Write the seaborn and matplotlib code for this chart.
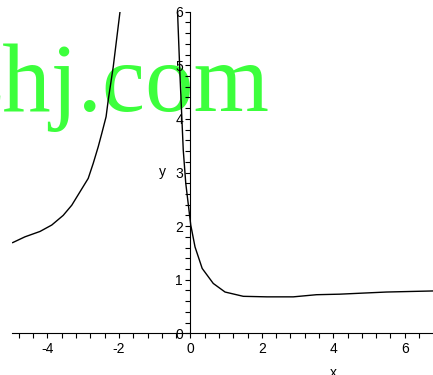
import matplotlib
matplotlib.use("Agg")
import matplotlib.pyplot as plt
from matplotlib.ticker import MultipleLocator
import seaborn as sns
import pandas as pd

# Data
left_x = [-4.98, -4.63, -4.21, -3.88, -3.56, -3.32, -3.09, -2.86, -2.72, -2.58, -2.48, -2.36, -2.30, -2.16, -1.97]
left_y = [1.69, 1.80, 1.90, 2.02, 2.20, 2.39, 2.64, 2.89, 3.17, 3.48, 3.73, 4.04, 4.35, 4.97, 6.00]
right_x = [-0.36, -0.29, -0.20, -0.13, -0.04, 0.01, 0.13, 0.33, 0.64, 0.97, 1.48, 2.14, 2.88, 3.53, 4.18, 4.83, 5.49, 6.79]
right_y = [6.00, 4.79, 3.42, 2.80, 2.30, 2.02, 1.61, 1.21, 0.93, 0.77, 0.69, 0.68, 0.68, 0.72, 0.73, 0.75, 0.77, 0.79]
x_ticks = [-4, -2, 0, 2, 4, 6]
y_ticks = [0, 1, 2, 3, 4, 5, 6]
watermark = "zhj.com"

sns.set_theme(style="white")
plt.rcParams["font.family"] = ["Liberation Sans", "DejaVu Sans"]

W, H = 433, 375
fig = plt.figure(figsize=(W / 100, H / 100), dpi=100)
left_px, right_px = 11.75, 433.0
top_px, bottom_px = 11.7, 333.3
ax = fig.add_axes([left_px / W, (H - bottom_px) / H, (right_px - left_px) / W, (bottom_px - top_px) / H])
ax.patch.set_alpha(0)

df_left = pd.DataFrame({"x": left_x, "y": left_y})
df_right = pd.DataFrame({"x": right_x, "y": right_y})
sns.lineplot(data=df_left, x="x", y="y", color="black", linewidth=1.0, estimator=None, sort=False, ax=ax)
sns.lineplot(data=df_right, x="x", y="y", color="black", linewidth=1.0, estimator=None, sort=False, ax=ax)

ax.set_xlim(-5, 6.79)
ax.set_ylim(0, 6)

for s in ["top", "right"]:
    ax.spines[s].set_visible(False)
ax.spines["left"].set_position(("data", 0))
ax.spines["bottom"].set_position(("data", 0))
for s in ["left", "bottom"]:
    ax.spines[s].set_color("black")
    ax.spines[s].set_linewidth(0.8)
    ax.spines[s].set_zorder(3)

ax.set_xticks(x_ticks)
ax.set_yticks(y_ticks)
ax.set_xticklabels([str(t) for t in x_ticks])
ax.set_yticklabels([str(t) for t in y_ticks])
ax.xaxis.set_minor_locator(MultipleLocator(0.4))
ax.yaxis.set_minor_locator(MultipleLocator(0.2))
ax.tick_params(axis="both", which="both", direction="out", length=3.3, width=0.8, color="black",
               labelsize=10, labelcolor="black")
ax.tick_params(axis="x", which="major", pad=3.0)
ax.tick_params(axis="y", which="major", pad=2.0)
ax.tick_params(left=True, bottom=True, which="both")
ax.set_xlabel("")
ax.set_ylabel("")
ax.grid(False)

fig.text(162.5 / W, (H - 175.6) / H, "y", ha="center", va="baseline", fontsize=10, color="black")
fig.text(333.3 / W, (H - 376.6) / H, "x", ha="center", va="baseline", fontsize=10, color="black")

ax.text(269.5 / W, (H - 111) / H, watermark, transform=fig.transFigure, ha="right", va="baseline",
        fontsize=69.8, family="Liberation Serif", color="#3cff3c", zorder=0.5, clip_on=False)

fig.savefig("out.png", dpi=100)
